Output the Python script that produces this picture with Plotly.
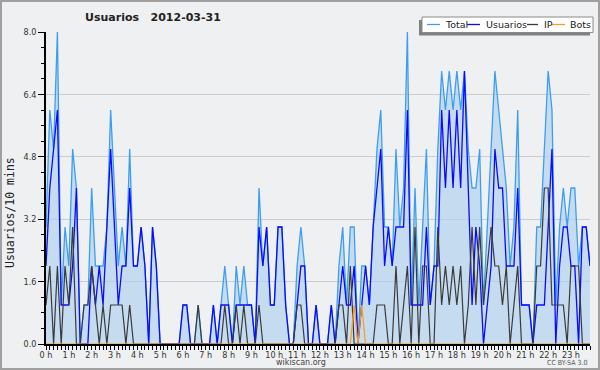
import plotly.graph_objects as go

# 10-minute slots of 2012-03-31 (0:00 ... 23:50), expressed in hours
slots = [i / 6 for i in range(144)]
hour_ticks = list(range(24))
hour_labels = [f"{h} h" for h in hour_ticks]

total = [3, 6, 5, 8, 1, 3, 2, 5, 4, 0,
         1, 1, 4, 2, 2, 2, 3, 6, 4, 2,
         3, 2, 5, 2, 2, 3, 2, 0, 3, 2,
         0, 0, 0, 0, 0, 0, 1, 1, 0, 0,
         1, 0, 0, 0, 1, 0, 1, 2, 1, 0,
         2, 1, 2, 1, 1, 0, 4, 2, 3, 1,
         1, 3, 3, 1, 0, 0, 2, 3, 2, 0,
         0, 1, 0, 0, 0, 1, 0, 2, 3, 1,
         3, 3, 0, 2, 2, 1, 3, 5, 6, 3,
         3, 2, 5, 3, 4, 8, 1, 4, 1, 3,
         5, 1, 2, 5, 7, 6, 7, 6, 7, 6,
         7, 5, 4, 4, 5, 1, 3, 5, 7, 6,
         5, 4, 2, 3, 6, 1, 1, 1, 0, 3,
         3, 5, 7, 6, 1, 3, 4, 3, 4, 4,
         2, 3, 3, 2]

usuarios = [2, 4, 5, 6, 1, 1, 1, 2, 4, 0,
            0, 0, 2, 1, 2, 1, 3, 5, 3, 1,
            2, 2, 4, 2, 2, 3, 2, 0, 3, 2,
            0, 0, 0, 0, 0, 0, 1, 1, 0, 0,
            0, 0, 0, 0, 1, 0, 1, 1, 1, 0,
            1, 1, 1, 1, 1, 0, 3, 2, 3, 1,
            1, 3, 3, 1, 0, 0, 1, 2, 2, 0,
            0, 1, 0, 0, 0, 1, 0, 1, 2, 1,
            1, 2, 0, 1, 2, 1, 3, 4, 5, 2,
            3, 2, 3, 3, 3, 6, 1, 1, 1, 1,
            3, 1, 2, 2, 6, 4, 6, 4, 6, 4,
            7, 4, 1, 3, 2, 0, 1, 2, 5, 4,
            4, 2, 2, 2, 4, 1, 1, 1, 0, 1,
            1, 1, 3, 5, 0, 2, 3, 3, 2, 2,
            0, 3, 3, 2]

ip = [1, 2, 0, 2, 0, 2, 1, 3, 0, 0,
      1, 1, 2, 1, 0, 1, 0, 1, 1, 1,
      1, 0, 1, 0, 0, 0, 0, 0, 0, 0,
      0, 0, 0, 0, 0, 0, 0, 0, 0, 0,
      1, 0, 0, 0, 0, 0, 0, 1, 0, 0,
      1, 0, 1, 0, 0, 0, 1, 0, 0, 0,
      0, 0, 0, 0, 0, 0, 1, 1, 0, 0,
      0, 0, 0, 0, 0, 0, 0, 1, 1, 0,
      2, 0, 0, 0, 0, 0, 0, 1, 1, 1,
      0, 0, 2, 0, 1, 2, 0, 3, 0, 2,
      2, 0, 0, 3, 1, 2, 1, 2, 1, 2,
      0, 1, 3, 1, 3, 1, 2, 3, 2, 2,
      1, 2, 0, 1, 2, 0, 0, 0, 0, 2,
      2, 4, 4, 1, 1, 1, 1, 0, 2, 2,
      2, 0, 0, 0]

bots = [0, 0, 0, 0, 0, 0, 0, 0, 0, 0,
        0, 0, 0, 0, 0, 0, 0, 0, 0, 0,
        0, 0, 0, 0, 0, 0, 0, 0, 0, 0,
        0, 0, 0, 0, 0, 0, 0, 0, 0, 0,
        0, 0, 0, 0, 0, 0, 0, 0, 0, 0,
        0, 0, 0, 0, 0, 0, 0, 0, 0, 0,
        0, 0, 0, 0, 0, 0, 0, 0, 0, 0,
        0, 0, 0, 0, 0, 0, 0, 0, 0, 0,
        0, 1, 0, 1, 0, 0, 0, 0, 0, 0,
        0, 0, 0, 0, 0, 0, 0, 0, 0, 0,
        0, 0, 0, 0, 0, 0, 0, 0, 0, 0,
        0, 0, 0, 0, 0, 0, 0, 0, 0, 0,
        0, 0, 0, 0, 0, 0, 0, 0, 0, 0,
        0, 0, 0, 0, 0, 0, 0, 0, 0, 0,
        0, 0, 0, 0]

colors = {"Total": "#3d9ef0", "Usuarios": "#0a0aff", "IP": "#3a3a3a", "Bots": "#ff9a1a"}

W, H = 600, 370
ML, MR, MT, MB = 46, 10, 32, 26
PW, PH = W - ML - MR, H - MT - MB


def px(x):
    return (x - ML) / PW


def py(y):
    return (H - MB - y) / PH


TICKFONT = dict(family="Liberation Sans Narrow, DejaVu Sans Condensed, Liberation Sans", size=9, color="#333")

fig = go.Figure()
fig.add_trace(go.Scatter(x=slots, y=total, name="Total", mode="lines",
                         line=dict(color=colors["Total"], width=1.3),
                         fill="tozeroy", fillcolor="rgba(171,208,239,0.62)"))
fig.add_trace(go.Scatter(x=slots, y=usuarios, name="Usuarios", mode="lines",
                         line=dict(color=colors["Usuarios"], width=1.3)))
fig.add_trace(go.Scatter(x=slots, y=ip, name="IP", mode="lines",
                         line=dict(color=colors["IP"], width=1.2)))
fig.add_trace(go.Scatter(x=slots, y=bots, name="Bots", mode="lines",
                         line=dict(color=colors["Bots"], width=1.2)))

shapes = [
    # outer frame
    dict(type="rect", xref="paper", yref="paper", x0=px(1), x1=px(599), y0=py(369), y1=py(1),
         line=dict(color="#a0a0a0", width=2), layer="below"),
    # legend shadow and box
    dict(type="rect", xref="paper", yref="paper", x0=px(419), x1=px(590), y0=py(35.5), y1=py(20),
         fillcolor="#808080", line=dict(width=0), layer="above"),
    dict(type="rect", xref="paper", yref="paper", x0=px(422), x1=px(593), y0=py(32.5), y1=py(17),
         fillcolor="white", line=dict(color="#8a8a8a", width=1), layer="above"),
]
annotations = []
legend_items = [("Total", 427, 440, 443), ("Usuarios", 467, 480, 484),
                ("IP", 527, 538, 542), ("Bots", 552, 565, 568)]
for name, lx0, lx1, tx in legend_items:
    shapes.append(dict(type="line", xref="paper", yref="paper", x0=px(lx0), x1=px(lx1),
                       y0=py(24.5), y1=py(24.5), line=dict(color=colors[name], width=1.3), layer="above"))
    annotations.append(dict(text=name, xref="paper", yref="paper", x=px(tx), y=py(24.5),
                            xanchor="left", yanchor="middle", showarrow=False,
                            font=dict(family="DejaVu Sans", size=9.5, color="#222")))

annotations += [
    dict(text="Usuarios/10 mins", xref="paper", yref="paper", x=px(10), y=py(213),
         textangle=-90, showarrow=False, xanchor="center", yanchor="middle",
         font=dict(family="DejaVu Sans Mono", size=11.5, color="#222")),
    dict(text="wikiscan.org", xref="paper", yref="paper", x=px(301), y=py(362),
         showarrow=False, xanchor="center", yanchor="middle",
         font=dict(family="DejaVu Sans", size=8, color="#444")),
    dict(text="CC BY-SA 3.0", xref="paper", yref="paper", x=px(589), y=py(362.5),
         showarrow=False, xanchor="right", yanchor="middle",
         font=dict(family="Liberation Sans Narrow, DejaVu Sans Condensed, Liberation Sans", size=7, color="#555")),
]

fig.update_layout(
    width=W, height=H,
    margin=dict(l=ML, r=MR, t=MT, b=MB, pad=0, autoexpand=False),
    paper_bgcolor="#eff0f1", plot_bgcolor="#eff0f1",
    showlegend=False,
    title=dict(text="Usuarios\u00a0\u00a0 2012-03-31", xref="container", yref="container",
               x=85 / W, xanchor="left", y=1 - 17 / H, yanchor="middle",
               font=dict(family="DejaVu Sans", size=11, color="#222", weight="bold")),
    xaxis=dict(range=[0, 143 / 6], tickmode="array", tickvals=hour_ticks, ticktext=hour_labels,
               ticks="outside", ticklen=4, tickwidth=1, tickcolor="black", automargin=False,
               ticklabelstandoff=-3,
               showline=True, linecolor="black", linewidth=1.5, showgrid=False, zeroline=False,
               layer="above traces", tickfont=TICKFONT,
               minor=dict(tickmode="linear", tick0=0, dtick=1 / 6, ticks="outside", ticklen=4,
                          tickwidth=1, tickcolor="black", showgrid=False)),
    yaxis=dict(range=[0, 8], tickmode="linear", tick0=0, dtick=1.6, tickformat=".1f",
               ticks="outside", ticklen=6, tickwidth=1, tickcolor="black", automargin=False,
               showline=True, linecolor="black", linewidth=1.5,
               showgrid=True, gridcolor="#cccccc", gridwidth=1, zeroline=False,
               layer="above traces", tickfont=TICKFONT,
               minor=dict(tickmode="linear", tick0=0, dtick=0.4, ticks="outside", ticklen=3,
                          tickwidth=1, tickcolor="black", showgrid=False)),
    shapes=shapes,
    annotations=annotations,
)

fig.write_html("out.html", config={"displayModeBar": False},
               post_script="document.body.style.margin='0px';")
